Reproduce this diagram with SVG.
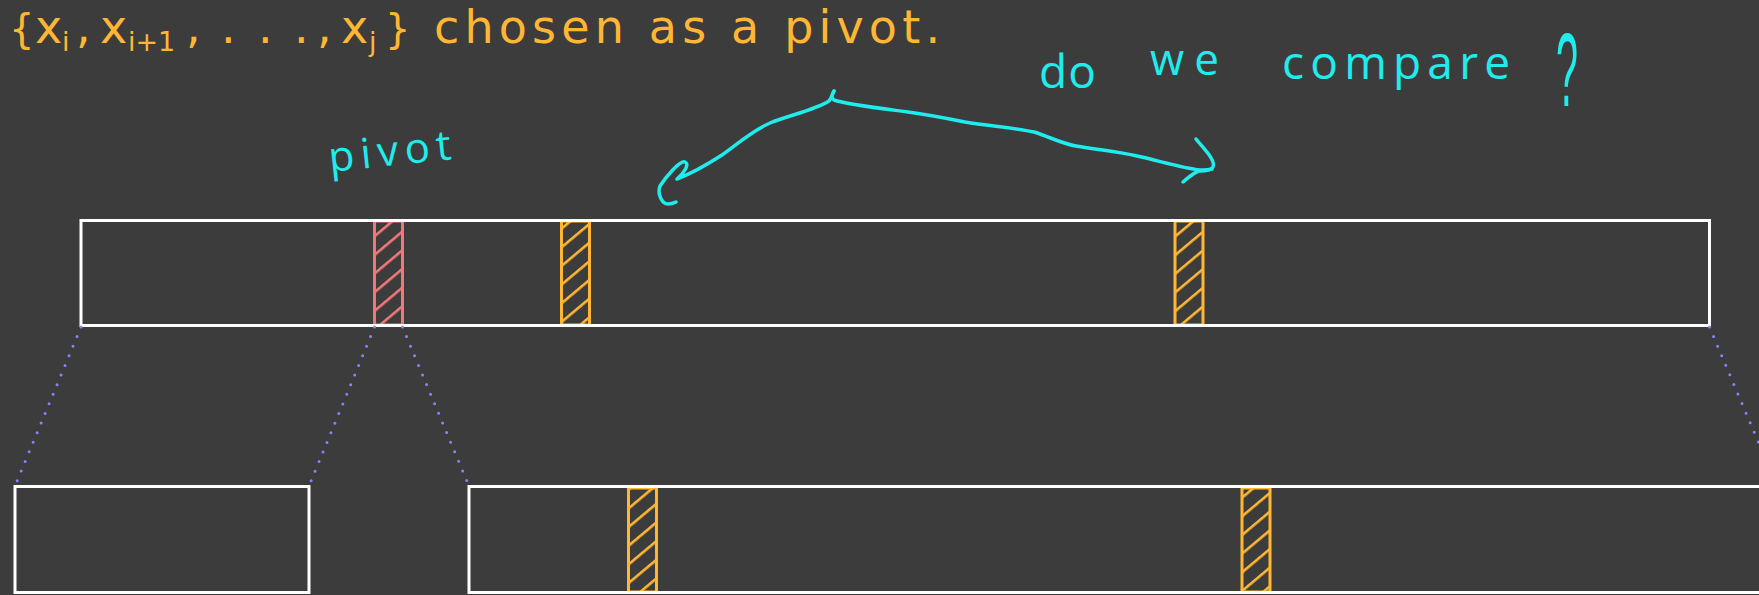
<svg xmlns="http://www.w3.org/2000/svg" width="1759" height="595" viewBox="0 0 1759 595">
  <style>
    .title { font-family: "DejaVu Sans", "Liberation Sans", sans-serif; font-size: 46px; fill: #FFB733; }
    .sub { font-size: 27px; }
    .brace { font-size: 40px; }
    .hand { font-family: "Open Sans", "DejaVu Sans", sans-serif; font-weight: 400; fill: #1FECEC; }
    .box { fill: none; stroke: #FFFFFF; stroke-width: 3; }
    .cellO { fill: url(#hatchO); stroke: #FFB733; stroke-width: 3; }
    .cellP { fill: url(#hatchP); stroke: #F07878; stroke-width: 3; }
    .dots { fill: none; stroke: #8484FF; stroke-width: 3; stroke-linecap: round; stroke-dasharray: 0 10.4; }
    .chalk { fill: none; stroke: #1FECEC; stroke-width: 3.5; stroke-linecap: round; stroke-linejoin: round; }
  </style>
  <defs>
    <pattern id="hatchO" width="20" height="14.3" patternUnits="userSpaceOnUse" patternTransform="rotate(-40)">
      <line x1="0" y1="7" x2="20" y2="7" stroke="#FFB733" stroke-width="2.6"/>
    </pattern>
    <pattern id="hatchP" width="20" height="14.3" patternUnits="userSpaceOnUse" patternTransform="rotate(-40)">
      <line x1="0" y1="7" x2="20" y2="7" stroke="#F07878" stroke-width="2.6"/>
    </pattern>
  </defs>

  <rect x="0" y="0" width="1759" height="595" fill="#3c3c3c"/>

  <g id="title">
    <text class="title" y="43"><tspan class="brace" x="9">{</tspan><tspan x="35">x</tspan><tspan class="sub" x="62" y="51">i</tspan><tspan x="76" y="43">,</tspan><tspan x="100">x</tspan><tspan class="sub" x="128" y="51">i+1</tspan><tspan x="186" y="43">,</tspan><tspan x="221">.</tspan><tspan x="258">.</tspan><tspan x="294">.</tspan><tspan x="317">,</tspan><tspan x="341">x</tspan><tspan class="sub" x="369" y="51">j</tspan><tspan class="brace" x="385" y="43">}</tspan></text>
    <text class="title" x="434" y="43" textLength="506" lengthAdjust="spacing">chosen as a pivot.</text>
  </g>

  <g id="array">
    <g id="pivot-cell"><rect class="cellP" x="374.5" y="221" width="28" height="104"/></g>
    <g id="cell-1"><rect class="cellO" x="561.5" y="221" width="28" height="104"/></g>
    <g id="cell-2"><rect class="cellO" x="1175" y="221" width="28" height="104"/></g>
    <rect class="box" x="81" y="220.5" width="1628.5" height="105"/>
  </g>

  <g id="left-part">
    <rect class="box" x="15" y="486.5" width="294" height="106"/>
  </g>

  <g id="right-part">
    <g id="sub-cell-1"><rect class="cellO" x="628.5" y="488" width="28" height="104"/></g>
    <g id="sub-cell-2"><rect class="cellO" x="1242" y="488" width="28" height="104"/></g>
    <rect class="box" x="469" y="486.5" width="1308" height="106"/>
  </g>

  <g id="connectors">
    <line class="dots" x1="81" y1="327" x2="15" y2="486"/>
    <line class="dots" x1="374.5" y1="327" x2="309" y2="486"/>
    <line class="dots" x1="402.5" y1="327" x2="469" y2="486"/>
    <line class="dots" x1="1709.5" y1="327" x2="1777" y2="486"/>
    <path class="chalk" d="M 834,91 C 832,95 831,99 829,101 C 815,110 790,115 770,123 C 752,131 740,142 722,155 C 705,166 690,174 677,179 C 684,173 690,164 685,162 C 680,160 665,178 660,186 C 657,194 662,204 668,204 C 671,204 674,203 676,202"/>
    <path class="chalk" d="M 834,91 C 832,94 831,98 834,100 C 845,104 870,107 908,112 C 930,115 950,119 965,122 C 990,126 1015,128 1034,132 C 1050,137 1060,143 1076,146 C 1100,150 1120,152 1137,156 C 1160,161 1182,168 1200,170 C 1204,170 1208,170 1212,169"/>
    <path class="chalk" d="M 1196,139 C 1203,148 1216,160 1213,167 C 1211,171 1203,171 1199,171 C 1193,173 1188,178 1183,182"/>
  </g>

  <g id="notes">
    <text class="hand" x="330" y="172" font-size="42" textLength="123" lengthAdjust="spacing" transform="rotate(-6 330 172)">pivot</text>
    <text class="hand" x="1039" y="88" font-size="46" textLength="57" lengthAdjust="spacing">do</text>
    <text class="hand" x="1150" y="75" font-size="44" textLength="69" lengthAdjust="spacing">we</text>
    <text class="hand" x="1282" y="79" font-size="46" textLength="228" lengthAdjust="spacing">compare</text>
    <text x="1556" y="106" font-family="Liberation Sans, Arial, sans-serif" font-size="104" fill="#1FECEC" textLength="22" lengthAdjust="spacingAndGlyphs">?</text>
  </g>
</svg>
